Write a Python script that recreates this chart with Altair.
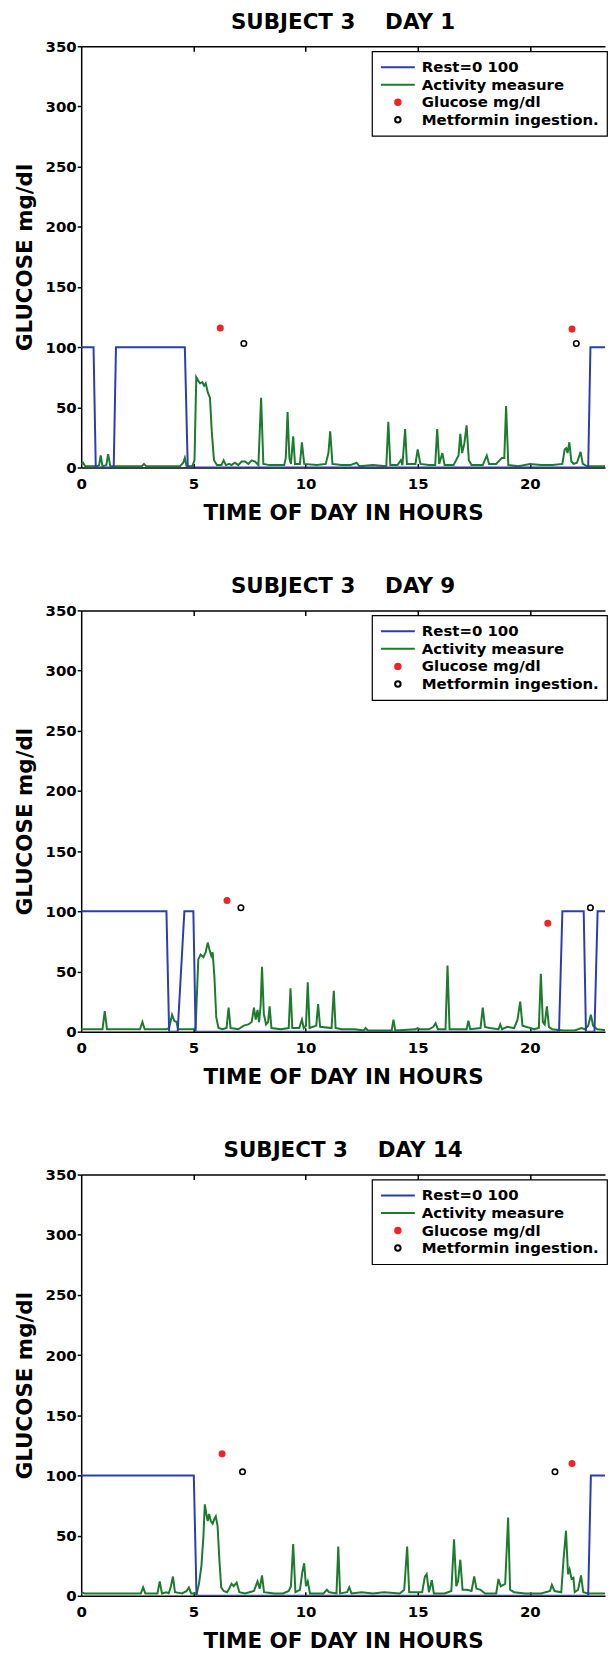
import altair as alt
import pandas as pd

FONT = "DejaVu Sans"
BLUE = "#2b3db4"
GREEN = "#1d7b2e"
RED = "#f02424"
BLACK = "#000000"

SERIES = ["Rest=0 100", "Activity measure", "Glucose mg/dl", "Metformin ingestion."]
X_TICKS = [0, 5, 10, 15, 20]
X_INNER_TICKS = [5, 10, 15, 20]
Y_TICKS = [0, 50, 100, 150, 200, 250, 300, 350]
X_TITLE = "TIME OF DAY IN HOURS"
Y_TITLE = "GLUCOSE mg/dl"
DAYS = ["DAY 1", "DAY 9", "DAY 14"]
SUBJECT = "SUBJECT 3"

# ---------------- DAY 1 ----------------
DAY1_REST = [(0, 100), (0.55, 100), (0.65, 0), (1.45, 0), (1.55, 100), (4.62, 100),
             (4.75, 0), (22.6, 0), (22.7, 100), (24, 100)]
DAY1_ACTIVITY = [(0.00, 3), (0.08, 4), (0.18, 1), (0.70, 1), (0.80, 2), (0.87, 10), (0.95, 1),
                 (1.12, 2), (1.20, 11), (1.30, 1), (2.00, 1), (2.70, 1), (2.80, 3), (2.90, 1),
                 (4.40, 1), (4.55, 4), (4.62, 8), (4.70, 1), (4.95, 1), (5.05, 6), (5.13, 75),
                 (5.22, 72), (5.30, 70), (5.40, 71), (5.48, 68), (5.55, 70), (5.65, 62),
                 (5.74, 58), (5.82, 30), (5.92, 6), (6.05, 2), (6.25, 2), (6.35, 6), (6.45, 2),
                 (6.60, 3), (6.70, 2), (6.85, 4), (7.00, 2), (7.15, 5), (7.30, 5), (7.45, 3),
                 (7.60, 6), (7.75, 5), (7.90, 2), (8.02, 58), (8.12, 3), (8.40, 2), (9.05, 2),
                 (9.12, 8), (9.20, 46), (9.28, 8), (9.35, 3), (9.45, 26), (9.53, 3), (9.75, 3),
                 (9.84, 21), (9.94, 3), (10.50, 2), (10.90, 3), (11.02, 12), (11.10, 30),
                 (11.20, 3), (11.60, 2), (12.00, 2), (12.28, 4), (12.40, 1), (13.00, 2),
                 (13.60, 1), (13.69, 38), (13.78, 2), (14.10, 2), (14.25, 6), (14.32, 2),
                 (14.44, 32), (14.52, 3), (14.90, 3), (15.00, 15), (15.12, 3), (15.50, 2),
                 (15.78, 2), (15.87, 32), (15.96, 3), (16.10, 12), (16.20, 2), (16.60, 2),
                 (16.82, 10), (16.90, 28), (16.98, 12), (17.08, 20), (17.18, 35), (17.28, 6),
                 (17.40, 2), (17.90, 2), (18.08, 10), (18.18, 3), (18.50, 3), (18.75, 8),
                 (18.86, 8), (18.94, 51), (19.04, 2), (19.50, 1), (20.00, 3), (20.50, 2),
                 (21.00, 2), (21.45, 3), (21.55, 15), (21.62, 16), (21.68, 12), (21.76, 21),
                 (21.85, 5), (21.95, 3), (22.10, 4), (22.26, 13), (22.36, 3), (22.55, 1),
                 (23.00, 1), (24.00, 1)]
DAY1_GLUCOSE = [(6.2, 116), (21.88, 115)]
DAY1_METFORMIN = [(7.25, 103), (22.07, 103)]

# ---------------- DAY 9 ----------------
DAY9_REST = [(0, 100), (3.8, 100), (3.92, 0), (4.3, 0), (4.6, 100), (5.0, 100), (5.1, 0),
             (21.3, 0), (21.45, 100), (22.4, 100), (22.5, 0), (22.88, 0), (23.02, 100), (24, 100)]
DAY9_ACTIVITY = [(0.00, 2), (0.50, 2), (0.95, 2), (1.05, 17), (1.15, 2), (2.00, 2), (2.62, 2),
                 (2.73, 8), (2.83, 2), (3.80, 2), (3.92, 3), (4.05, 14), (4.15, 9), (4.25, 8),
                 (4.32, 2), (5.00, 2), (5.10, 3), (5.22, 60), (5.32, 64), (5.45, 62), (5.55, 66),
                 (5.64, 74), (5.72, 68), (5.80, 63), (5.86, 66), (5.94, 45), (6.02, 12),
                 (6.12, 3), (6.30, 2), (6.48, 3), (6.57, 20), (6.66, 3), (7.00, 2), (7.25, 5),
                 (7.45, 6), (7.60, 8), (7.70, 20), (7.78, 10), (7.86, 18), (7.93, 8), (8.00, 22),
                 (8.06, 54), (8.14, 15), (8.24, 6), (8.33, 8), (8.40, 21), (8.48, 3), (8.90, 2),
                 (9.25, 3), (9.33, 36), (9.41, 3), (9.72, 3), (9.84, 10), (9.92, 3), (10.02, 5),
                 (10.10, 41), (10.18, 3), (10.48, 5), (10.56, 23), (10.65, 4), (11.16, 3),
                 (11.26, 34), (11.34, 3), (11.60, 2), (12.20, 2), (12.60, 1), (12.68, 3),
                 (12.78, 1), (13.50, 1), (13.84, 1), (13.92, 10), (14.00, 1), (14.90, 2),
                 (15.00, 3), (15.10, 2), (15.50, 2), (15.70, 4), (15.80, 7), (15.90, 2),
                 (16.24, 2), (16.33, 55), (16.42, 2), (17.00, 2), (17.18, 2), (17.26, 9),
                 (17.34, 2), (17.80, 3), (17.90, 20), (18.00, 4), (18.20, 3), (18.60, 2),
                 (18.68, 6), (18.76, 2), (19.00, 4), (19.30, 3), (19.45, 10), (19.57, 25),
                 (19.67, 5), (20.20, 2), (20.40, 3), (20.49, 48), (20.58, 8), (20.66, 6),
                 (20.76, 21), (20.85, 4), (21.00, 2), (21.50, 1), (22.00, 1), (22.30, 3),
                 (22.45, 2), (22.60, 5), (22.72, 14), (22.82, 5), (23.00, 2), (23.50, 1),
                 (24.00, 1)]
DAY9_GLUCOSE = [(6.5, 109), (20.8, 90)]
DAY9_METFORMIN = [(7.12, 103), (22.7, 103)]

# ---------------- DAY 14 ----------------
DAY14_REST = [(0, 100), (5.02, 100), (5.14, 0), (22.6, 0), (22.72, 100), (24, 100)]
DAY14_ACTIVITY = [(0.00, 3), (0.15, 2), (1.00, 2), (2.00, 2), (2.66, 2), (2.76, 7), (2.86, 2),
                  (3.40, 2), (3.50, 12), (3.60, 2), (3.80, 3), (3.90, 2), (4.00, 8), (4.09, 16),
                  (4.18, 3), (4.50, 2), (4.70, 4), (4.80, 7), (4.90, 2), (5.15, 2), (5.25, 10),
                  (5.36, 25), (5.45, 50), (5.51, 76), (5.58, 68), (5.64, 62), (5.70, 68),
                  (5.78, 62), (5.86, 60), (5.94, 64), (6.00, 66), (6.08, 58), (6.16, 30),
                  (6.24, 7), (6.35, 4), (6.50, 3), (6.60, 6), (6.70, 10), (6.80, 8), (6.93, 11),
                  (7.05, 3), (7.30, 2), (7.50, 3), (7.70, 4), (7.86, 12), (7.96, 6), (8.06, 17),
                  (8.15, 3), (8.60, 2), (9.00, 2), (9.25, 4), (9.35, 8), (9.45, 43), (9.55, 3),
                  (9.75, 5), (9.86, 20), (9.94, 27), (10.02, 8), (10.10, 12), (10.20, 2),
                  (10.80, 2), (10.95, 5), (11.05, 3), (11.38, 2), (11.46, 41), (11.54, 2),
                  (11.85, 3), (11.95, 7), (12.05, 2), (12.50, 3), (13.00, 2), (13.50, 3),
                  (14.20, 2), (14.40, 5), (14.53, 41), (14.62, 3), (15.20, 3), (15.32, 16),
                  (15.40, 18), (15.50, 3), (15.63, 13), (15.72, 2), (16.20, 2), (16.50, 4),
                  (16.62, 47), (16.72, 8), (16.80, 12), (16.90, 30), (17.00, 5), (17.20, 5),
                  (17.40, 4), (17.52, 16), (17.62, 6), (17.80, 5), (18.00, 2), (18.50, 2),
                  (18.60, 14), (18.70, 8), (18.90, 10), (19.03, 65), (19.12, 5), (19.30, 3),
                  (19.80, 2), (20.50, 2), (20.90, 4), (20.98, 9), (21.10, 4), (21.40, 3),
                  (21.50, 30), (21.61, 54), (21.70, 18), (21.77, 22), (21.86, 14), (21.94, 15),
                  (22.00, 3), (22.15, 5), (22.28, 17), (22.38, 3), (22.60, 2), (23.40, 2),
                  (23.55, 4), (23.65, 2), (24.00, 2)]
DAY14_GLUCOSE = [(6.28, 118), (21.88, 110)]
DAY14_METFORMIN = [(7.19, 103), (21.12, 103)]

PANELS = [
    (DAYS[0], DAY1_REST, DAY1_ACTIVITY, DAY1_GLUCOSE, DAY1_METFORMIN),
    (DAYS[1], DAY9_REST, DAY9_ACTIVITY, DAY9_GLUCOSE, DAY9_METFORMIN),
    (DAYS[2], DAY14_REST, DAY14_ACTIVITY, DAY14_GLUCOSE, DAY14_METFORMIN),
]

X_MAX = 23.35  # visible part of the 0-24 h axis (the figure is cut at the right edge)


def frame(pairs, name):
    return pd.DataFrame({"t": [p[0] for p in pairs], "v": [p[1] for p in pairs],
                         "series": [name] * len(pairs)})


stroke_scale = alt.Scale(domain=SERIES, range=[BLUE, GREEN, RED, BLACK])
fill_scale = alt.Scale(domain=SERIES, range=[BLUE, GREEN, RED, "#ffffff"])
shape_scale = alt.Scale(domain=SERIES, range=["stroke", "stroke", "circle", "circle"])
size_scale = alt.Scale(type="ordinal", domain=SERIES, range=[1156, 1156, 30, 30])

legend = alt.Legend(
    title=None, orient="none", legendX=292, legendY=5, padding=8,
    strokeColor="black", fillColor="white",
    labelFont=FONT, labelFontWeight="bold", labelFontSize=15, labelColor="black",
    labelOffset=6, clipHeight=16, rowPadding=1.6, symbolStrokeWidth=2,
    labelLimit=400,
)

y_enc = alt.Y("v:Q", scale=alt.Scale(domain=[0, 350], nice=False, zero=False),
              axis=alt.Axis(values=Y_TICKS, title=Y_TITLE, grid=False, domain=True,
                            domainColor="black", domainWidth=1.5,
                            tickSize=4, tickWidth=1.5, tickColor="black",
                            labelFont=FONT, labelFontWeight="bold", labelFontSize=15,
                            labelColor="black", labelPadding=1,
                            titleFont=FONT, titleFontWeight="bold", titleFontSize=21.5,
                            titleColor="black", titlePadding=9))
x_scale = alt.Scale(domain=[0, X_MAX], nice=False, zero=False)

main_x_axis = alt.Axis(values=X_TICKS, orient="bottom", title=X_TITLE, grid=False,
                       domain=True, domainColor="black", domainWidth=1.5, ticks=False,
                       labelFont=FONT, labelFontWeight="bold", labelFontSize=15,
                       labelColor="black", labelPadding=9, labelFlush=False,
                       titleFont=FONT, titleFontWeight="bold", titleFontSize=21.5,
                       titleColor="black", titlePadding=11)
bottom_tick_axis = alt.Axis(values=X_INNER_TICKS, orient="bottom", offset=-4, tickSize=4,
                            tickWidth=1.5, tickColor="black", labels=False, domain=False,
                            grid=False, title=None)
top_line_axis = alt.Axis(values=X_INNER_TICKS, orient="top", ticks=False, labels=False,
                         domain=True, domainColor="black", domainWidth=1.5,
                         grid=False, title=None)
top_tick_axis = alt.Axis(values=X_INNER_TICKS, orient="top", offset=-5, tickSize=5,
                         tickWidth=1.5, tickColor="black", labels=False, domain=False,
                         grid=False, title=None)


def series_channels():
    return dict(
        stroke=alt.Stroke("series:N", scale=stroke_scale, legend=legend),
        fill=alt.Fill("series:N", scale=fill_scale, legend=legend),
        shape=alt.Shape("series:N", scale=shape_scale, legend=legend),
        size=alt.Size("series:N", scale=size_scale, legend=legend),
    )


def panel(day, rest, act, glu, met):
    rest_df = frame(rest, SERIES[0])
    act_df = frame(act, SERIES[1])
    glu_df = frame(glu, SERIES[2])
    met_df = frame(met, SERIES[3])

    act_line = alt.Chart(act_df).mark_line(strokeWidth=2, clip=True).encode(
        x=alt.X("t:Q", scale=x_scale, axis=bottom_tick_axis),
        y=y_enc,
        stroke=alt.Stroke("series:N", scale=stroke_scale, legend=legend),
    )
    rest_line = alt.Chart(rest_df).mark_line(strokeWidth=2, clip=True).encode(
        x=alt.X("t:Q", scale=x_scale, axis=main_x_axis),
        y=y_enc,
        stroke=alt.Stroke("series:N", scale=stroke_scale, legend=legend),
    )
    glu_pts = alt.Chart(glu_df).mark_point(filled=True, strokeWidth=1.6, opacity=1).encode(
        x=alt.X("t:Q", scale=x_scale, axis=top_line_axis),
        y=y_enc,
        **series_channels(),
    )
    met_pts = alt.Chart(met_df).mark_point(filled=True, strokeWidth=1.6, opacity=1).encode(
        x=alt.X("t:Q", scale=x_scale, axis=top_tick_axis),
        y=y_enc,
        **series_channels(),
    )
    return alt.layer(act_line, rest_line, glu_pts, met_pts).resolve_axis(
        x="independent").properties(
        width=526, height=423,
        title=alt.TitleParams(f"{SUBJECT}\u00a0\u00a0\u00a0\u00a0{day}", font=FONT,
                              fontWeight="bold", fontSize=21.5, color="black",
                              anchor="middle", offset=6),
    )


chart = alt.vconcat(*[panel(*p) for p in PANELS], spacing=51.5).resolve_scale(
    stroke="independent", fill="independent", shape="independent", size="independent"
).resolve_legend(
    stroke="independent", fill="independent", shape="independent", size="independent"
).properties(
    padding={"left": 5.5, "top": 0, "right": 0, "bottom": -3}
).configure_view(stroke=None).configure_legend(strokeWidth=1.2)

chart.save("out.html", embed_options={"renderer": "svg", "actions": False})
